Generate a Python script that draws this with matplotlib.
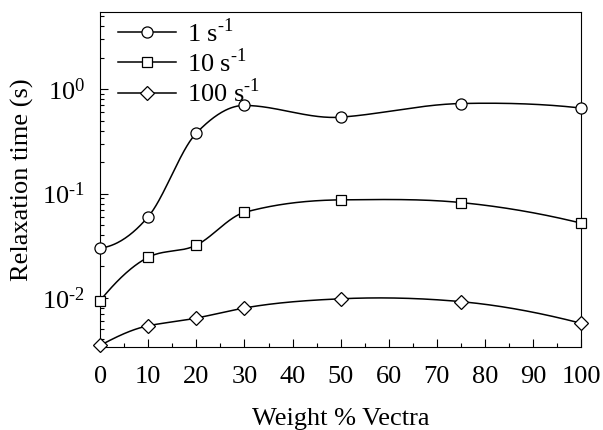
import numpy as np
import matplotlib
matplotlib.use("Agg")
import matplotlib.pyplot as plt
from matplotlib.ticker import MultipleLocator, LogLocator, NullFormatter, FuncFormatter
from matplotlib.lines import Line2D

weight_pct = [0, 10, 20, 30, 50, 75, 100]
tau_1 = [0.030, 0.060, 0.38, 0.70, 0.54, 0.73, 0.66]
tau_10 = [0.0094, 0.0245, 0.032, 0.066, 0.087, 0.082, 0.052]
tau_100 = [0.0035, 0.0054, 0.0064, 0.0080, 0.0098, 0.0092, 0.0057]
HY = "\u2010"
series_labels = [f"1 s$^{{\\mathregular{{{HY}1}}}}$",
                 f"10 s$^{{\\mathregular{{{HY}1}}}}$",
                 f"100 s$^{{\\mathregular{{{HY}1}}}}$"]
markers = ["o", "s", "D"]
marker_sizes = [8.0, 7.0, 7.5]


def akima_curve(x, y, xs):
    """Akima-style cubic Hermite curve through the points."""
    x = np.asarray(x, float)
    y = np.asarray(y, float)
    h = np.diff(x)
    d = np.diff(y) / h
    n = len(x)
    # extend secant slopes at both ends
    dd = np.concatenate([[3 * d[0] - 2 * d[1], 2 * d[0] - d[1]], d,
                         [2 * d[-1] - d[-2], 3 * d[-1] - 2 * d[-2]]])
    m = np.zeros(n)
    for i in range(n):
        k = i + 2
        w_next = abs(dd[k + 1] - dd[k])
        w_prev = abs(dd[k - 1] - dd[k - 2])
        if w_next + w_prev < 1e-12:
            m[i] = 0.5 * (dd[k - 1] + dd[k])
        else:
            m[i] = (w_next * dd[k - 1] + w_prev * dd[k]) / (w_next + w_prev)
    idx = np.clip(np.searchsorted(x, xs) - 1, 0, n - 2)
    hh = h[idx]
    t = (xs - x[idx]) / hh
    h00 = 2 * t**3 - 3 * t**2 + 1
    h10 = t**3 - 2 * t**2 + t
    h01 = -2 * t**3 + 3 * t**2
    h11 = t**3 - t**2
    return h00 * y[idx] + h10 * hh * m[idx] + h01 * y[idx + 1] + h11 * hh * m[idx + 1]


def log_label(v, pos):
    e = int(round(np.log10(v)))
    s = str(e).replace("-", HY)
    return f"$\\mathregular{{10^{{{s}}}}}$"


plt.rcParams["font.family"] = ["Liberation Serif", "DejaVu Serif"]
plt.rcParams["mathtext.fontset"] = "custom"
plt.rcParams["mathtext.rm"] = "Liberation Serif"

fig = plt.figure(figsize=(6.03, 4.30), dpi=100)
ax = fig.add_axes([0.166, 0.193, 0.798, 0.779])

xs = np.linspace(0, 100, 500)
handles = []
for vals, mk, ms, lab in zip([tau_1, tau_10, tau_100], markers, marker_sizes, series_labels):
    ys = 10 ** akima_curve(weight_pct, np.log10(vals), xs)
    ax.plot(xs, ys, color="black", lw=1.1, zorder=2)
    ax.plot(weight_pct, vals, ls="none", marker=mk, ms=ms, mfc="white",
            mec="black", mew=0.9, zorder=3, clip_on=False)
    handles.append(Line2D([], [], color="black", lw=1.1, marker=mk, ms=ms,
                          mfc="white", mec="black", mew=0.9, label=lab))

ax.set_yscale("log")
ax.set_xlim(0, 100)
ax.set_ylim(0.00338, 5.5)
ax.xaxis.set_major_locator(MultipleLocator(10))
ax.xaxis.set_minor_locator(MultipleLocator(5))
ax.yaxis.set_major_locator(LogLocator(base=10, numticks=10))
ax.yaxis.set_major_formatter(FuncFormatter(log_label))
ax.yaxis.set_minor_locator(LogLocator(base=10, subs=np.arange(2, 10), numticks=20))
ax.yaxis.set_minor_formatter(NullFormatter())

ax.tick_params(which="both", direction="in", top=False, right=False,
               labelsize=19, colors="black")
ax.tick_params(axis="x", which="major", length=6, width=0.8, pad=14)
ax.tick_params(axis="y", which="major", length=6, width=0.8, pad=11)
ax.tick_params(which="minor", length=3, width=0.8)
for s in ax.spines.values():
    s.set_linewidth(0.8)

ax.set_xlabel("Weight % Vectra", fontsize=19, labelpad=14)
ax.set_ylabel("Relaxation time (s)", fontsize=19, labelpad=6)

leg = ax.legend(handles=handles, loc="upper left", frameon=False, fontsize=19,
                handlelength=2.2, handletextpad=0.43, labelspacing=0.06,
                borderaxespad=0.0, bbox_to_anchor=(0.015, 1.014))

fig.savefig("out.png", dpi=100)
